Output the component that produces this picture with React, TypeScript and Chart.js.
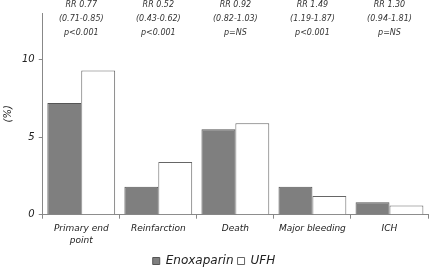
import React, { useEffect, useRef } from "react";
import { Chart, registerables } from "chart.js";

Chart.register(...registerables);

const categories: (string | string[])[] = [["Primary end", "point"], "Reinfarction", "Death", "Major bleeding", "ICH"];
const enoxaparin = [7.2, 1.8, 5.5, 1.8, 0.8];
const ufh = [9.3, 3.4, 5.9, 1.2, 0.6];
const rrLabels = ["RR 0.77", "RR 0.52", "RR 0.92", "RR 1.49", "RR 1.30"];
const ciLabels = ["(0.71-0.85)", "(0.43-0.62)", "(0.82-1.03)", "(1.19-1.87)", "(0.94-1.81)"];
const pLabels = ["p<0.001", "p<0.001", "p=NS", "p<0.001", "p=NS"];
const yTicks = [0, 5, 10];

const FONT = "'DejaVu Sans', Verdana, sans-serif";

const annotationPlugin = {
  id: "rrAnnotations",
  afterDraw(chart: any) {
    const ctx = chart.ctx;
    const x = chart.scales.x;
    ctx.save();
    ctx.font = `italic 8px ${FONT}`;
    ctx.fillStyle = "#333";
    ctx.textAlign = "center";
    ctx.textBaseline = "middle";
    categories.forEach((_, i) => {
      const px = x.getPixelForValue(i);
      ctx.fillText(rrLabels[i], px, 5);
      ctx.fillText(ciLabels[i], px, 19);
      ctx.fillText(pLabels[i], px, 33);
    });
    ctx.restore();
  },
};

export default function App() {
  const ref = useRef<HTMLCanvasElement>(null);
  useEffect(() => {
    if (!ref.current) return;
    const chart = new Chart(ref.current, {
      type: "bar",
      data: {
        labels: categories,
        datasets: [
          {
            label: "Enoxaparin",
            data: enoxaparin,
            backgroundColor: "#7f7f7f",
            borderColor: "#555",
            borderWidth: 1,
          },
          {
            label: "UFH",
            data: ufh,
            backgroundColor: "#ffffff",
            borderColor: "#666",
            borderWidth: 1,
          },
        ],
      },
      options: {
        responsive: false,
        animation: false,
        layout: { padding: { top: 13, right: 2, left: 0, bottom: -8 } },
        datasets: { bar: { categoryPercentage: 0.88, barPercentage: 1 } },
        plugins: {
          legend: {
            position: "bottom",
            labels: {
              boxWidth: 7,
              boxHeight: 7,
              padding: 4,
              color: "#222",
              font: { family: FONT, size: 12, style: "italic" },
            },
          },
          tooltip: { enabled: false },
        },
        scales: {
          x: {
            grid: { display: true, drawOnChartArea: false, drawTicks: true, tickLength: 4, offset: true, color: "#888" },
            border: { display: true, color: "#888" },
            ticks: { color: "#222", font: { family: FONT, size: 9, style: "italic", lineHeight: 1.35 }, maxRotation: 0, autoSkip: false, padding: 4 },
          },
          y: {
            min: 0,
            max: 13,
            afterBuildTicks: (scale: any) => {
              scale.ticks = yTicks.map((v) => ({ value: v }));
            },
            grid: { display: true, drawOnChartArea: false, drawTicks: true, tickLength: 4, color: "#888" },
            border: { display: true, color: "#888" },
            ticks: { color: "#222", font: { family: FONT, size: 10, style: "italic" }, padding: 4 },
            title: { display: true, text: "(%)", color: "#222", font: { family: FONT, size: 10, style: "italic" }, padding: { top: 2, bottom: 4 } },
          },
        },
      },
      plugins: [annotationPlugin],
    });
    return () => chart.destroy();
  }, []);
  return (
    <div style={{ position: "fixed", left: 0, top: 0, width: 430, height: 269, background: "#fff" }}>
      <canvas ref={ref} width={430} height={269} style={{ width: 430, height: 269, display: "block" }} />
    </div>
  );
}
